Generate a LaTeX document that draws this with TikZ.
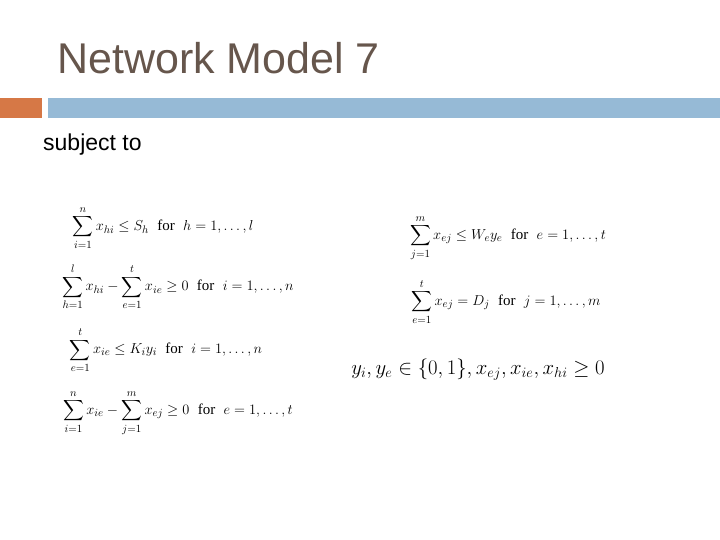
\documentclass[tikz,border=0pt]{standalone}
\usepackage{fontspec}
\setmainfont{Liberation Sans}
\newfontfamily\serif{Liberation Serif}
\usepackage{amsmath}
\newcommand{\fr}{\ \ \text{\serif for}\ \ }
\begin{document}
\begin{tikzpicture}[x=1pt,y=-1pt,
  eq/.style={anchor=center,inner sep=0pt,font=\fontsize{15}{18}\selectfont},
  title/.style={anchor=west,inner sep=0pt,text=titlec,font=\fontsize{43}{48}\selectfont}]
\definecolor{titlec}{RGB}{102,86,76}
\definecolor{barblue}{RGB}{150,186,214}
\definecolor{barorange}{RGB}{214,120,70}
\useasboundingbox (0,0) rectangle (720,540);
\fill[white] (0,0) rectangle (720,540);
\node[title] (t) at (57,58) {Network Model 7};
\fill[barorange] (0,98) rectangle (42,118);
\fill[barblue] (48,98) rectangle (720,118);
\node[anchor=west,inner sep=0pt,font=\fontsize{23}{26}\selectfont] (s) at (43,145) {subject to};
\node[eq] (e1) at (163,228) {$\displaystyle\sum_{i=1}^{n} x_{hi}\le S_h\fr h=1,\dots,l$};
\node[eq] (e2) at (178,287) {$\displaystyle\sum_{h=1}^{l} x_{hi}-\sum_{e=1}^{t} x_{ie}\ge 0\fr i=1,\dots,n$};
\node[eq] (e3) at (166,350) {$\displaystyle\sum_{e=1}^{t} x_{ie}\le K_i y_i\fr i=1,\dots,n$};
\node[eq] (e4) at (178,413) {$\displaystyle\sum_{i=1}^{n} x_{ie}-\sum_{j=1}^{m} x_{ej}\ge 0\fr e=1,\dots,t$};
\node[eq] (r1) at (508,238) {$\displaystyle\sum_{j=1}^{m} x_{ej}\le W_e y_e\fr e=1,\dots,t$};
\node[eq] (r2) at (506,302) {$\displaystyle\sum_{e=1}^{t} x_{ej}= D_j\fr j=1,\dots,m$};
\node[eq,font=\fontsize{20.5}{24}\selectfont] (r3) at (478,370) {$y_i, y_e\in\{0,1\}, x_{ej}, x_{ie}, x_{hi}\ge 0$};
\end{tikzpicture}
\end{document}
